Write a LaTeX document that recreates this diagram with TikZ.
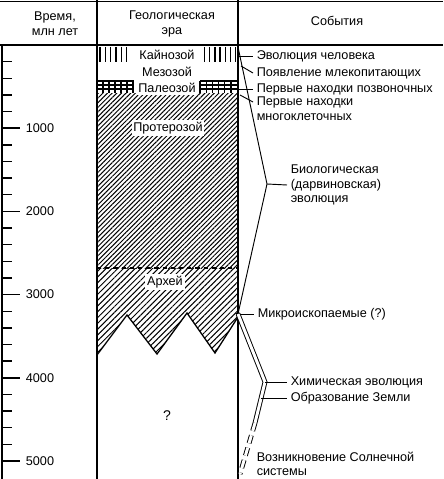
\documentclass[tikz,border=0pt]{standalone}
\usepackage{fontspec}
\setmainfont{Liberation Sans}
\usetikzlibrary{patterns.meta}

\begin{document}
\begin{tikzpicture}[x=0.03cm,y=-0.03cm,
    every node/.style={font=\fontsize{10.8}{12.5}\selectfont},
    frame/.style={line width=1.6pt},
    tick/.style={line width=1.2pt},
    hatch/.style={line width=0.9pt},
    era/.style={fill=white,inner sep=1.5pt},
    ev/.style={anchor=west,align=left,inner xsep=3pt,inner ysep=1pt},
    evline/.style={line width=0.8pt},
    chemline/.style={line width=0.8pt,double,double distance=2.5pt}]
  \useasboundingbox (0,0) rectangle (443,479);
  \fill[white] (0,0) rectangle (443,479);

  \fill[pattern={Lines[angle=45,distance=2.8pt,line width=0.85pt]}] (97,93) rectangle (238,268);
  \fill[pattern={Lines[angle=45,distance=3.5pt,line width=0.85pt]}]
     (97,268) -- (238,268) -- (238,317) -- (215,353) -- (187,313) -- (157,354) -- (127,315) -- (97,355) -- cycle;
  \draw[hatch,line width=1.1pt] (97,355) -- (127,315) -- (157,354) -- (187,313) -- (215,353) -- (238,317);
  \draw[hatch,dash pattern=on 3.5pt off 3.5pt] (97,268) -- (238,268);
  \foreach \i in {0,...,5} \draw[hatch,line width=1.1pt] (100+5.3*\i,47) -- ++(0,15);
  \foreach \i in {0,...,6} \draw[hatch,line width=1.1pt] (204.5+5.2*\i,47) -- ++(0,15);
  \foreach \y in {81,85,89} {
    \draw[hatch] (97,\y) -- (134,\y);
    \draw[hatch] (200,\y) -- (238,\y);
  }
  \foreach \i in {0,...,6} {
    \draw[hatch] (97+6*\i,81) -- ++(0,12);
    \draw[hatch] (200+6.2*\i,81) -- ++(0,12);
  }

  \draw[frame] (0,1.5) -- (443,1.5);
  \draw[frame] (0,45) -- (443,45);
  \draw[frame] (2,45) -- (2,479);
  \draw[frame] (97,0) -- (97,479);
  \draw[frame] (238,0) -- (238,479);

  \foreach \t in {1,...,25} \draw[tick] (2,45+16.64*\t) -- ++(10,0);
  \foreach \k in {1,...,5} {
    \draw[tick] (2,45+83.2*\k) -- ++(18,0);
    \draw (40,45+83.2*\k) node (lab\k) {\k000};
  }

  \draw (55,24) node[align=center] (timehead) {Время,\\млн лет};
  \draw (172,24) node[align=center] (erahead) {Геологическая\\эра};
  \draw (337,21) node (evhead) {События};

  \draw (167,55) node[era] (kz) {Кайнозой};
  \draw (167,72) node[era] (mz) {Мезозой};
  \draw (167,88) node[era] (pz) {Палеозой};
  \draw (168,128) node[era] (pt) {Протерозой};
  \draw (165,282) node[era] (ar) {Архей};
  \draw (167,416) node[font=\fontsize{12}{14}\selectfont] (unk) {?};

  \coordinate (c-man) at (238,56);
  \coordinate (c-mam) at (241,66);
  \coordinate (c-vert) at (238,89);
  \coordinate (c-multi) at (240,95);
  \coordinate (bio-top) at (238,47);
  \coordinate (bio-tip) at (267,184);
  \coordinate (micro-pt) at (238,314);
  \coordinate (chem-tip) at (265,382);
  \coordinate (earth-pt) at (261,398);
  \coordinate (sun-mid) at (255,423);
  \coordinate (sun-end) at (240,474);

  \draw (253,56) node[ev] (man) {Эволюция человека};
  \draw (253,73) node[ev] (mam) {Появление млекопитающих};
  \draw (253,89) node[ev] (vert) {Первые находки позвоночных};
  \draw (253,109) node[ev] (multi) {Первые находки\\многоклеточных};
  \draw (287,185) node[ev] (bio) {Биологическая\\(дарвиновская)\\эволюция};
  \draw (254,314) node[ev] (micro) {Микроископаемые (?)};
  \draw (287,382) node[ev] (chem) {Химическая эволюция};
  \draw (287,398) node[ev] (earth) {Образование Земли};
  \draw (253,464) node[ev] (sun) {Возникновение Солнечной\\системы};

  \path[evline] (c-man) edge (man.west);
  \path[evline] (c-mam) edge (mam.west);
  \path[evline] (c-vert) edge (vert.west);
  \path[evline] (c-multi) edge (multi.west |- 0,102);
  \draw[evline] (bio-top) -- (bio-tip) -- (micro-pt);
  \path[evline] (bio-tip) edge (bio.west);
  \fill (micro-pt) circle (1.8pt);
  \path[evline] (micro-pt) edge (micro.west);
  \draw[chemline] (micro-pt) -- (chem-tip) -- (sun-mid);
  \draw[chemline,dash pattern=on 7pt off 4pt] (sun-mid) -- (sun-end);
  \path[evline] (chem-tip) edge (chem.west);
  \path[evline] (earth-pt) edge (earth.west);
\end{tikzpicture}
\end{document}
